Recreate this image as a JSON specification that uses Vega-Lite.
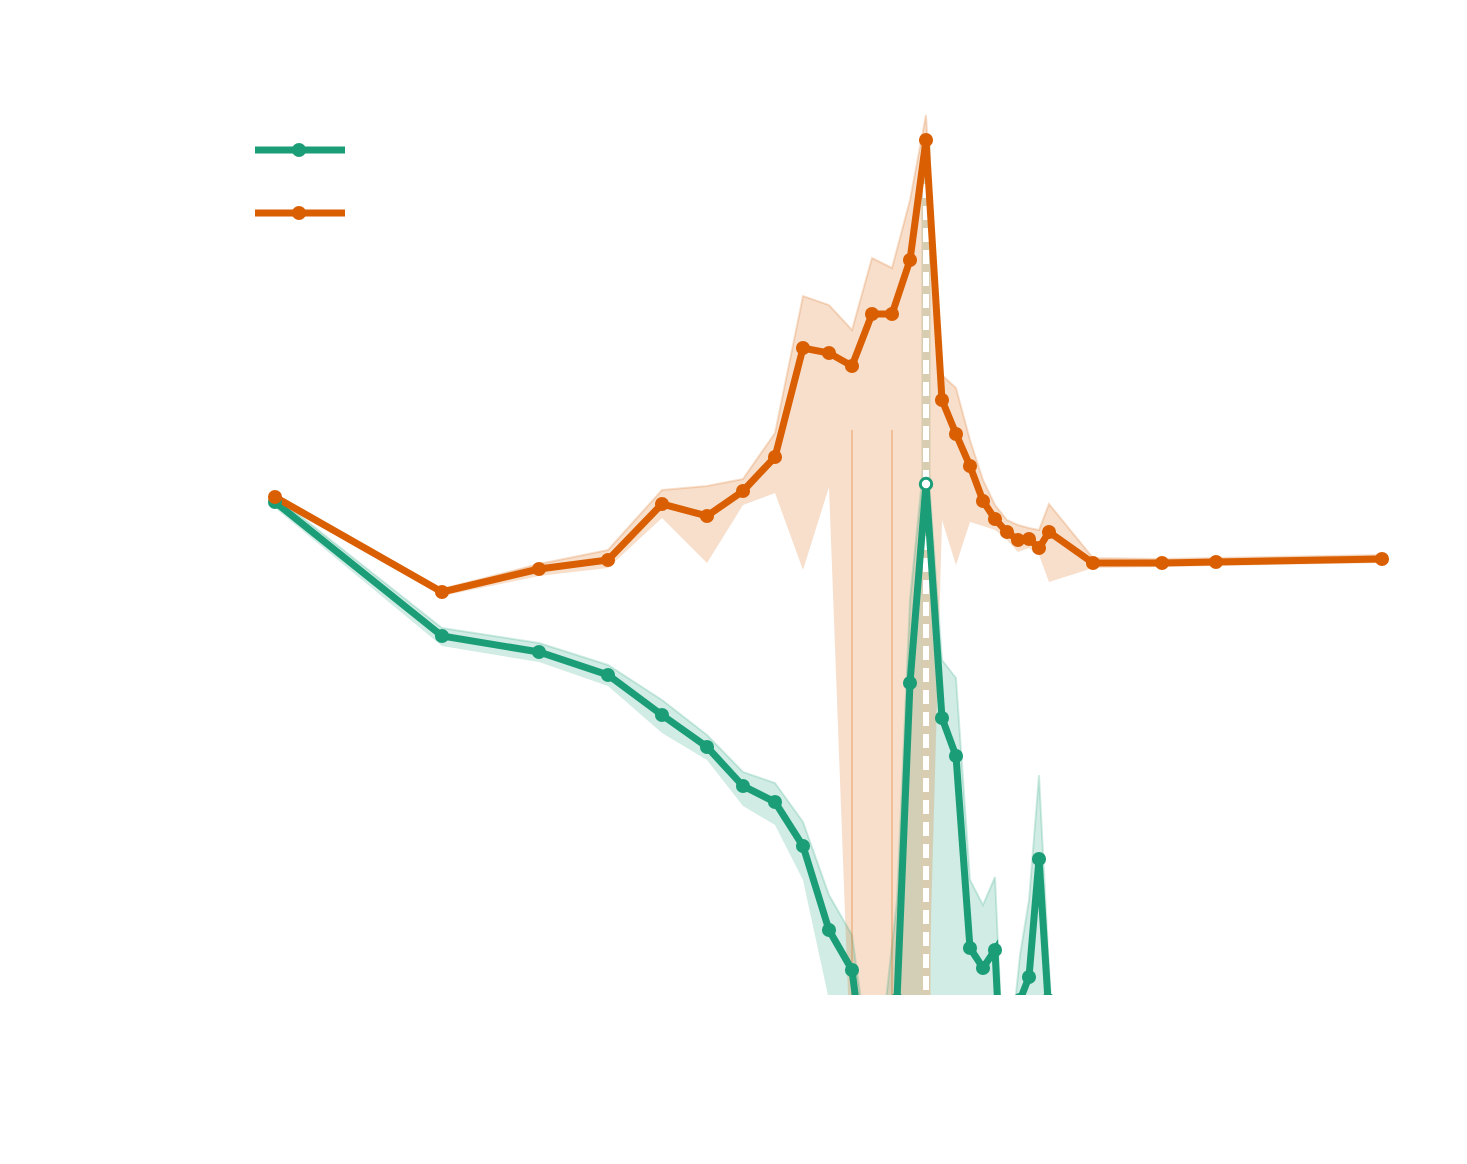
{
  "$schema": "https://vega.github.io/schema/vega-lite/v6.json",
  "width": 1467, "height": 995, "padding": 0,
  "autosize": {"type": "none"},
  "config": {"view": {"stroke": null}},
  "datasets": {
    "main": [
      {"s":"g","x":275,"y":502,"lo":496,"hi":508},
      {"s":"g","x":442,"y":636,"lo":628,"hi":646},
      {"s":"g","x":539,"y":652,"lo":643,"hi":662},
      {"s":"g","x":608,"y":675,"lo":665,"hi":686},
      {"s":"g","x":662,"y":715,"lo":700,"hi":733},
      {"s":"g","x":707,"y":747,"lo":735,"hi":760},
      {"s":"g","x":743,"y":786,"lo":772,"hi":806},
      {"s":"g","x":775,"y":802,"lo":783,"hi":825},
      {"s":"g","x":803,"y":846,"lo":822,"hi":880},
      {"s":"g","x":829,"y":930,"lo":895,"hi":1000},
      {"s":"g","x":852,"y":970,"lo":935,"hi":1050},
      {"s":"g","x":875,"y":1150,"lo":1100,"hi":1200},
      {"s":"g","x":897,"y":1000,"lo":900,"hi":1100},
      {"s":"g","x":910,"y":683,"lo":600,"hi":1000},
      {"s":"g","x":926,"y":484,"lo":440,"hi":1000},
      {"s":"g","x":942,"y":718,"lo":660,"hi":1000},
      {"s":"g","x":956,"y":756,"lo":678,"hi":1000},
      {"s":"g","x":970,"y":948,"lo":880,"hi":1000},
      {"s":"g","x":983,"y":968,"lo":905,"hi":1000},
      {"s":"g","x":995,"y":950,"lo":877,"hi":1000},
      {"s":"g","x":1005,"y":1150,"lo":1100,"hi":1200},
      {"s":"g","x":1020,"y":1000,"lo":955,"hi":1100},
      {"s":"g","x":1029,"y":977,"lo":900,"hi":1050},
      {"s":"g","x":1039,"y":859,"lo":775,"hi":1000},
      {"s":"g","x":1048,"y":1000,"lo":950,"hi":1100},
      {"s":"g","x":1060,"y":1200,"lo":1150,"hi":1250},
      {"s":"o","x":275,"y":497,"lo":494,"hi":500},
      {"s":"o","x":442,"y":592,"lo":589,"hi":596},
      {"s":"o","x":539,"y":569,"lo":564,"hi":576},
      {"s":"o","x":608,"y":560,"lo":550,"hi":568},
      {"s":"o","x":662,"y":504,"lo":490,"hi":518},
      {"s":"o","x":707,"y":516,"lo":486,"hi":563},
      {"s":"o","x":743,"y":491,"lo":479,"hi":505},
      {"s":"o","x":775,"y":457,"lo":433,"hi":493},
      {"s":"o","x":803,"y":348,"lo":296,"hi":570},
      {"s":"o","x":829,"y":353,"lo":305,"hi":487},
      {"s":"o","x":852,"y":366,"lo":330,"hi":1100},
      {"s":"o","x":872,"y":314,"lo":258,"hi":1100},
      {"s":"o","x":892,"y":314,"lo":268,"hi":1100},
      {"s":"o","x":910,"y":260,"lo":200,"hi":1100},
      {"s":"o","x":926,"y":140,"lo":115,"hi":1100},
      {"s":"o","x":942,"y":400,"lo":375,"hi":520},
      {"s":"o","x":956,"y":434,"lo":388,"hi":565},
      {"s":"o","x":970,"y":466,"lo":440,"hi":522},
      {"s":"o","x":983,"y":501,"lo":480,"hi":526},
      {"s":"o","x":995,"y":519,"lo":505,"hi":530},
      {"s":"o","x":1007,"y":532,"lo":520,"hi":540},
      {"s":"o","x":1018,"y":540,"lo":525,"hi":552},
      {"s":"o","x":1029,"y":539,"lo":528,"hi":548},
      {"s":"o","x":1039,"y":548,"lo":530,"hi":555},
      {"s":"o","x":1049,"y":532,"lo":504,"hi":582},
      {"s":"o","x":1093,"y":563,"lo":558,"hi":568},
      {"s":"o","x":1162,"y":563,"lo":559,"hi":567},
      {"s":"o","x":1216,"y":562,"lo":558,"hi":566},
      {"s":"o","x":1382,"y":559,"lo":555,"hi":563}
    ],
    "legend": [
      {"s":"g","x":255,"y":150},{"s":"g","x":345,"y":150},
      {"s":"o","x":255,"y":213},{"s":"o","x":345,"y":213}
    ],
    "legdot": [{"s":"g","x":299,"y":150},{"s":"o","x":299,"y":213}],
    "vline": [{"x":926,"y":140,"y2":1000}],
    "vband": [{"x":852,"y":430,"y2":1000},{"x":892,"y":430,"y2":1000}]
  },
  "encoding": {
    "x": {"field":"x","type":"quantitative","scale":{"domain":[0,1467]},"axis":null},
    "y": {"field":"y","type":"quantitative","scale":{"domain":[0,995],"reverse":true},"axis":null},
    "color": {"field":"s","type":"nominal","scale":{"domain":["g","o"],"range":["#1b9e77","#d95f02"]},"legend":null}
  },
  "layer": [
    {"data":{"name":"main"},"mark":{"type":"area","opacity":0.2,"clip":true,"line":{"strokeWidth":2,"opacity":0.2}},
     "encoding":{"y":{"field":"lo"},"y2":{"field":"hi"}}},
    {"data":{"name":"vband"},"mark":{"type":"rule","color":"#d95f02","opacity":0.25,"strokeWidth":2,"clip":true},
     "encoding":{"y2":{"field":"y2"},"color":{"value":"#d95f02"}}},
    {"data":{"name":"vline"},"mark":{"type":"rule","color":"#d8cdb0","strokeWidth":9,"clip":true},
     "encoding":{"y2":{"field":"y2"},"color":{"value":"#d8cdb0"}}},
    {"data":{"name":"vline"},"mark":{"type":"rule","strokeWidth":6,"strokeDash":[14,8],"clip":true},
     "encoding":{"y2":{"field":"y2"},"color":{"value":"white"}}},
    {"data":{"name":"main"},"mark":{"type":"line","strokeWidth":7,"clip":true},"encoding":{"detail":{"field":"s"}}},
    {"data":{"name":"main"},"transform":[{"filter":"!(datum.s=='g' && datum.x==926)"}],
     "mark":{"type":"circle","size":200,"opacity":1,"clip":true}},
    {"data":{"name":"main"},"transform":[{"filter":"datum.s=='g' && datum.x==926"}],
     "mark":{"type":"point","size":130,"filled":true,"fill":"white","stroke":"#1b9e77","strokeWidth":3,"opacity":1}},
    {"data":{"name":"legend"},"mark":{"type":"line","strokeWidth":7},"encoding":{"detail":{"field":"s"}}},
    {"data":{"name":"legdot"},"mark":{"type":"circle","size":200,"opacity":1}}
  ]
}
